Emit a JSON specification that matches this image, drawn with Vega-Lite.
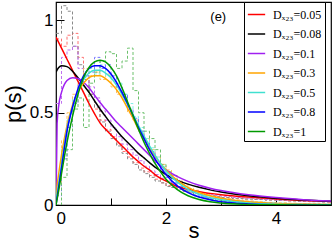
{
"$schema": "https://vega.github.io/schema/vega-lite/v6.json",
"width": 275, "height": 203,
"autosize": {"type": "none"},
"padding": {"left": 56, "top": 2, "right": 1, "bottom": 37},
"config": {"view": {"stroke": "black", "strokeWidth": 1.2}, "font": "Liberation Sans"},
"datasets": {
"c": [
{"k":"0.05","s":0,"p":0.91},{"k":"0.05","s":0.1,"p":0.85},{"k":"0.05","s":0.2,"p":0.79},{"k":"0.05","s":0.3,"p":0.73},{"k":"0.05","s":0.4,"p":0.67},{"k":"0.05","s":0.5,"p":0.61},{"k":"0.05","s":0.6,"p":0.55},{"k":"0.05","s":0.7,"p":0.495},{"k":"0.05","s":0.8,"p":0.445},{"k":"0.05","s":0.9,"p":0.41},{"k":"0.05","s":1.0,"p":0.38},{"k":"0.05","s":1.1,"p":0.35},{"k":"0.05","s":1.2,"p":0.32},{"k":"0.05","s":1.3,"p":0.29},{"k":"0.05","s":1.4,"p":0.26},{"k":"0.05","s":1.5,"p":0.235},{"k":"0.05","s":1.6,"p":0.21},{"k":"0.05","s":1.7,"p":0.19},{"k":"0.05","s":1.8,"p":0.165},{"k":"0.05","s":1.9,"p":0.145},{"k":"0.05","s":2.0,"p":0.13},{"k":"0.05","s":2.2,"p":0.10},{"k":"0.05","s":2.4,"p":0.085},{"k":"0.05","s":2.6,"p":0.072},{"k":"0.05","s":2.8,"p":0.063},{"k":"0.05","s":3.0,"p":0.056},{"k":"0.05","s":3.5,"p":0.043},{"k":"0.05","s":4,"p":0.033},{"k":"0.05","s":4.5,"p":0.025},{"k":"0.05","s":5,"p":0.019},
{"k":"0.08","s":0,"p":0.72},{"k":"0.08","s":0.05,"p":0.745},{"k":"0.08","s":0.1,"p":0.755},{"k":"0.08","s":0.2,"p":0.75},{"k":"0.08","s":0.3,"p":0.725},{"k":"0.08","s":0.4,"p":0.69},{"k":"0.08","s":0.5,"p":0.65},{"k":"0.08","s":0.6,"p":0.61},{"k":"0.08","s":0.7,"p":0.565},{"k":"0.08","s":0.8,"p":0.52},{"k":"0.08","s":0.9,"p":0.48},{"k":"0.08","s":1.0,"p":0.44},{"k":"0.08","s":1.1,"p":0.405},{"k":"0.08","s":1.2,"p":0.37},{"k":"0.08","s":1.3,"p":0.34},{"k":"0.08","s":1.4,"p":0.31},{"k":"0.08","s":1.5,"p":0.28},{"k":"0.08","s":1.6,"p":0.255},{"k":"0.08","s":1.7,"p":0.23},{"k":"0.08","s":1.8,"p":0.205},{"k":"0.08","s":1.9,"p":0.185},{"k":"0.08","s":2.0,"p":0.165},{"k":"0.08","s":2.2,"p":0.135},{"k":"0.08","s":2.4,"p":0.113},{"k":"0.08","s":2.6,"p":0.096},{"k":"0.08","s":2.8,"p":0.082},{"k":"0.08","s":3.0,"p":0.071},{"k":"0.08","s":3.5,"p":0.05},{"k":"0.08","s":4,"p":0.037},{"k":"0.08","s":4.5,"p":0.027},{"k":"0.08","s":5,"p":0.02},
{"k":"0.1","s":0,"p":0},{"k":"0.1","s":0.02,"p":0.44},{"k":"0.1","s":0.05,"p":0.54},{"k":"0.1","s":0.1,"p":0.61},{"k":"0.1","s":0.2,"p":0.675},{"k":"0.1","s":0.3,"p":0.69},{"k":"0.1","s":0.4,"p":0.685},{"k":"0.1","s":0.5,"p":0.665},{"k":"0.1","s":0.6,"p":0.635},{"k":"0.1","s":0.7,"p":0.595},{"k":"0.1","s":0.8,"p":0.555},{"k":"0.1","s":0.9,"p":0.52},{"k":"0.1","s":1.0,"p":0.485},{"k":"0.1","s":1.1,"p":0.45},{"k":"0.1","s":1.2,"p":0.42},{"k":"0.1","s":1.3,"p":0.39},{"k":"0.1","s":1.4,"p":0.36},{"k":"0.1","s":1.5,"p":0.33},{"k":"0.1","s":1.6,"p":0.30},{"k":"0.1","s":1.7,"p":0.27},{"k":"0.1","s":1.8,"p":0.24},{"k":"0.1","s":1.9,"p":0.215},{"k":"0.1","s":2.0,"p":0.19},{"k":"0.1","s":2.2,"p":0.155},{"k":"0.1","s":2.4,"p":0.128},{"k":"0.1","s":2.6,"p":0.107},{"k":"0.1","s":2.8,"p":0.091},{"k":"0.1","s":3.0,"p":0.078},{"k":"0.1","s":3.5,"p":0.055},{"k":"0.1","s":4,"p":0.04},{"k":"0.1","s":4.5,"p":0.029},{"k":"0.1","s":5,"p":0.021},
{"k":"0.3","s":0,"p":0},{"k":"0.3","s":0.02,"p":0.1},{"k":"0.3","s":0.05,"p":0.17},{"k":"0.3","s":0.1,"p":0.27},{"k":"0.3","s":0.2,"p":0.43},{"k":"0.3","s":0.3,"p":0.54},{"k":"0.3","s":0.4,"p":0.615},{"k":"0.3","s":0.5,"p":0.66},{"k":"0.3","s":0.6,"p":0.69},{"k":"0.3","s":0.7,"p":0.70},{"k":"0.3","s":0.8,"p":0.70},{"k":"0.3","s":0.9,"p":0.685},{"k":"0.3","s":1.0,"p":0.66},{"k":"0.3","s":1.1,"p":0.625},{"k":"0.3","s":1.2,"p":0.58},{"k":"0.3","s":1.3,"p":0.525},{"k":"0.3","s":1.4,"p":0.47},{"k":"0.3","s":1.5,"p":0.41},{"k":"0.3","s":1.6,"p":0.36},{"k":"0.3","s":1.7,"p":0.31},{"k":"0.3","s":1.8,"p":0.265},{"k":"0.3","s":1.9,"p":0.225},{"k":"0.3","s":2.0,"p":0.19},{"k":"0.3","s":2.2,"p":0.135},{"k":"0.3","s":2.4,"p":0.095},{"k":"0.3","s":2.6,"p":0.068},{"k":"0.3","s":2.8,"p":0.05},{"k":"0.3","s":3.0,"p":0.037},{"k":"0.3","s":3.5,"p":0.017},{"k":"0.3","s":4,"p":0.008},{"k":"0.3","s":4.5,"p":0.004},{"k":"0.3","s":5,"p":0.002},
{"k":"0.5","s":0,"p":0},{"k":"0.5","s":0.02,"p":0.06},{"k":"0.5","s":0.05,"p":0.12},{"k":"0.5","s":0.1,"p":0.22},{"k":"0.5","s":0.2,"p":0.41},{"k":"0.5","s":0.3,"p":0.53},{"k":"0.5","s":0.4,"p":0.62},{"k":"0.5","s":0.5,"p":0.68},{"k":"0.5","s":0.6,"p":0.715},{"k":"0.5","s":0.7,"p":0.73},{"k":"0.5","s":0.8,"p":0.73},{"k":"0.5","s":0.9,"p":0.715},{"k":"0.5","s":1.0,"p":0.69},{"k":"0.5","s":1.1,"p":0.65},{"k":"0.5","s":1.2,"p":0.60},{"k":"0.5","s":1.3,"p":0.545},{"k":"0.5","s":1.4,"p":0.49},{"k":"0.5","s":1.5,"p":0.43},{"k":"0.5","s":1.6,"p":0.375},{"k":"0.5","s":1.7,"p":0.32},{"k":"0.5","s":1.8,"p":0.27},{"k":"0.5","s":1.9,"p":0.225},{"k":"0.5","s":2.0,"p":0.185},{"k":"0.5","s":2.2,"p":0.125},{"k":"0.5","s":2.4,"p":0.085},{"k":"0.5","s":2.6,"p":0.058},{"k":"0.5","s":2.8,"p":0.04},{"k":"0.5","s":3.0,"p":0.028},{"k":"0.5","s":3.5,"p":0.011},{"k":"0.5","s":4,"p":0.004},{"k":"0.5","s":4.5,"p":0.002},{"k":"0.5","s":5,"p":0.001},
{"k":"0.8","s":0,"p":0},{"k":"0.8","s":0.05,"p":0.1},{"k":"0.8","s":0.1,"p":0.20},{"k":"0.8","s":0.2,"p":0.40},{"k":"0.8","s":0.3,"p":0.53},{"k":"0.8","s":0.4,"p":0.63},{"k":"0.8","s":0.5,"p":0.70},{"k":"0.8","s":0.6,"p":0.74},{"k":"0.8","s":0.7,"p":0.755},{"k":"0.8","s":0.8,"p":0.755},{"k":"0.8","s":0.9,"p":0.74},{"k":"0.8","s":1.0,"p":0.71},{"k":"0.8","s":1.1,"p":0.665},{"k":"0.8","s":1.2,"p":0.61},{"k":"0.8","s":1.3,"p":0.55},{"k":"0.8","s":1.4,"p":0.485},{"k":"0.8","s":1.5,"p":0.42},{"k":"0.8","s":1.6,"p":0.36},{"k":"0.8","s":1.7,"p":0.30},{"k":"0.8","s":1.8,"p":0.25},{"k":"0.8","s":1.9,"p":0.205},{"k":"0.8","s":2.0,"p":0.165},{"k":"0.8","s":2.2,"p":0.105},{"k":"0.8","s":2.4,"p":0.067},{"k":"0.8","s":2.6,"p":0.043},{"k":"0.8","s":2.8,"p":0.028},{"k":"0.8","s":3.0,"p":0.018},{"k":"0.8","s":3.5,"p":0.006},{"k":"0.8","s":4,"p":0.002},{"k":"0.8","s":4.5,"p":0.001},{"k":"0.8","s":5,"p":0},
{"k":"1","s":0,"p":0},{"k":"1","s":0.05,"p":0.08},{"k":"1","s":0.1,"p":0.17},{"k":"1","s":0.2,"p":0.34},{"k":"1","s":0.3,"p":0.48},{"k":"1","s":0.4,"p":0.60},{"k":"1","s":0.5,"p":0.69},{"k":"1","s":0.6,"p":0.745},{"k":"1","s":0.7,"p":0.775},{"k":"1","s":0.8,"p":0.785},{"k":"1","s":0.9,"p":0.775},{"k":"1","s":1.0,"p":0.745},{"k":"1","s":1.1,"p":0.70},{"k":"1","s":1.2,"p":0.635},{"k":"1","s":1.3,"p":0.56},{"k":"1","s":1.4,"p":0.485},{"k":"1","s":1.5,"p":0.41},{"k":"1","s":1.6,"p":0.34},{"k":"1","s":1.7,"p":0.28},{"k":"1","s":1.8,"p":0.225},{"k":"1","s":1.9,"p":0.18},{"k":"1","s":2.0,"p":0.14},{"k":"1","s":2.2,"p":0.085},{"k":"1","s":2.4,"p":0.05},{"k":"1","s":2.6,"p":0.03},{"k":"1","s":2.8,"p":0.018},{"k":"1","s":3.0,"p":0.011},{"k":"1","s":3.5,"p":0.003},{"k":"1","s":4,"p":0.001},{"k":"1","s":4.5,"p":0},{"k":"1","s":5,"p":0}
],
"h": [
{"k":"a","s":0,"p":0.90},{"k":"a","s":0.1,"p":0.86},{"k":"a","s":0.2,"p":0.92},{"k":"a","s":0.3,"p":0.93},{"k":"a","s":0.4,"p":0.80},{"k":"a","s":0.5,"p":0.70},{"k":"a","s":0.6,"p":0.60},{"k":"a","s":0.7,"p":0.52},{"k":"a","s":0.8,"p":0.46},{"k":"a","s":0.9,"p":0.41},{"k":"a","s":1.0,"p":0.37},{"k":"a","s":1.1,"p":0.33},{"k":"a","s":1.2,"p":0.29},{"k":"a","s":1.3,"p":0.26},{"k":"a","s":1.4,"p":0.23},{"k":"a","s":1.5,"p":0.20},{"k":"a","s":1.6,"p":0.18},{"k":"a","s":1.7,"p":0.16},{"k":"a","s":1.8,"p":0.14},{"k":"a","s":1.9,"p":0.12},{"k":"a","s":2.0,"p":0.105},{"k":"a","s":2.1,"p":0.095},{"k":"a","s":2.2,"p":0.085},{"k":"a","s":2.3,"p":0.075},{"k":"a","s":2.4,"p":0.068},{"k":"a","s":2.5,"p":0.062},{"k":"a","s":2.6,"p":0.057},{"k":"a","s":2.7,"p":0.052},{"k":"a","s":2.8,"p":0.048},{"k":"a","s":2.9,"p":0.044},{"k":"a","s":3.0,"p":0.04},{"k":"a","s":3.2,"p":0.036},{"k":"a","s":3.4,"p":0.033},{"k":"a","s":3.6,"p":0.03},{"k":"a","s":3.8,"p":0.027},{"k":"a","s":4.0,"p":0.025},{"k":"a","s":4.2,"p":0.023},{"k":"a","s":4.4,"p":0.021},{"k":"a","s":4.6,"p":0.019},{"k":"a","s":4.8,"p":0.018},{"k":"a","s":5,"p":0.018},
{"k":"b","s":0,"p":0.93},{"k":"b","s":0.1,"p":1.08},{"k":"b","s":0.2,"p":1.05},{"k":"b","s":0.3,"p":0.86},{"k":"b","s":0.4,"p":0.76},{"k":"b","s":0.5,"p":0.68},{"k":"b","s":0.6,"p":0.60},{"k":"b","s":0.7,"p":0.53},{"k":"b","s":0.8,"p":0.45},{"k":"b","s":0.9,"p":0.40},{"k":"b","s":1.0,"p":0.36},{"k":"b","s":1.1,"p":0.32},{"k":"b","s":1.2,"p":0.28},{"k":"b","s":1.3,"p":0.25},{"k":"b","s":1.4,"p":0.22},{"k":"b","s":1.5,"p":0.19},{"k":"b","s":1.6,"p":0.17},{"k":"b","s":1.7,"p":0.15},{"k":"b","s":1.8,"p":0.13},{"k":"b","s":1.9,"p":0.12},{"k":"b","s":2.0,"p":0.10},{"k":"b","s":2.1,"p":0.095},{"k":"b","s":2.2,"p":0.085},{"k":"b","s":2.3,"p":0.075},{"k":"b","s":2.4,"p":0.07},{"k":"b","s":2.5,"p":0.065},{"k":"b","s":2.6,"p":0.06},{"k":"b","s":2.7,"p":0.055},{"k":"b","s":2.8,"p":0.05},{"k":"b","s":2.9,"p":0.045},{"k":"b","s":3.0,"p":0.04},{"k":"b","s":3.2,"p":0.036},{"k":"b","s":3.4,"p":0.032},{"k":"b","s":3.6,"p":0.03},{"k":"b","s":3.8,"p":0.027},{"k":"b","s":4.0,"p":0.025},{"k":"b","s":4.2,"p":0.022},{"k":"b","s":4.4,"p":0.02},{"k":"b","s":4.6,"p":0.018},{"k":"b","s":4.8,"p":0.016},{"k":"b","s":5,"p":0.016},
{"k":"c","s":0,"p":0.55},{"k":"c","s":0.1,"p":0.80},{"k":"c","s":0.2,"p":0.84},{"k":"c","s":0.3,"p":0.86},{"k":"c","s":0.4,"p":0.74},{"k":"c","s":0.5,"p":0.70},{"k":"c","s":0.6,"p":0.64},{"k":"c","s":0.7,"p":0.58},{"k":"c","s":0.8,"p":0.51},{"k":"c","s":0.9,"p":0.46},{"k":"c","s":1.0,"p":0.42},{"k":"c","s":1.1,"p":0.37},{"k":"c","s":1.2,"p":0.33},{"k":"c","s":1.3,"p":0.30},{"k":"c","s":1.4,"p":0.27},{"k":"c","s":1.5,"p":0.24},{"k":"c","s":1.6,"p":0.21},{"k":"c","s":1.7,"p":0.185},{"k":"c","s":1.8,"p":0.165},{"k":"c","s":1.9,"p":0.145},{"k":"c","s":2.0,"p":0.13},{"k":"c","s":2.1,"p":0.115},{"k":"c","s":2.2,"p":0.10},{"k":"c","s":2.3,"p":0.09},{"k":"c","s":2.4,"p":0.082},{"k":"c","s":2.5,"p":0.074},{"k":"c","s":2.6,"p":0.067},{"k":"c","s":2.7,"p":0.061},{"k":"c","s":2.8,"p":0.056},{"k":"c","s":2.9,"p":0.051},{"k":"c","s":3.0,"p":0.047},{"k":"c","s":3.2,"p":0.041},{"k":"c","s":3.4,"p":0.037},{"k":"c","s":3.6,"p":0.033},{"k":"c","s":3.8,"p":0.03},{"k":"c","s":4.0,"p":0.027},{"k":"c","s":4.2,"p":0.025},{"k":"c","s":4.4,"p":0.022},{"k":"c","s":4.6,"p":0.02},{"k":"c","s":4.8,"p":0.019},{"k":"c","s":5,"p":0.019},
{"k":"d","s":0,"p":0.12},{"k":"d","s":0.1,"p":0.35},{"k":"d","s":0.2,"p":0.50},{"k":"d","s":0.3,"p":0.60},{"k":"d","s":0.4,"p":0.66},{"k":"d","s":0.5,"p":0.74},{"k":"d","s":0.6,"p":0.70},{"k":"d","s":0.7,"p":0.72},{"k":"d","s":0.8,"p":0.68},{"k":"d","s":0.9,"p":0.71},{"k":"d","s":1.0,"p":0.64},{"k":"d","s":1.1,"p":0.60},{"k":"d","s":1.2,"p":0.57},{"k":"d","s":1.3,"p":0.50},{"k":"d","s":1.4,"p":0.46},{"k":"d","s":1.5,"p":0.40},{"k":"d","s":1.6,"p":0.36},{"k":"d","s":1.7,"p":0.30},{"k":"d","s":1.8,"p":0.26},{"k":"d","s":1.9,"p":0.22},{"k":"d","s":2.0,"p":0.19},{"k":"d","s":2.1,"p":0.16},{"k":"d","s":2.2,"p":0.13},{"k":"d","s":2.3,"p":0.11},{"k":"d","s":2.4,"p":0.09},{"k":"d","s":2.5,"p":0.08},{"k":"d","s":2.6,"p":0.065},{"k":"d","s":2.7,"p":0.055},{"k":"d","s":2.8,"p":0.045},{"k":"d","s":2.9,"p":0.04},{"k":"d","s":3.0,"p":0.035},{"k":"d","s":3.2,"p":0.028},{"k":"d","s":3.4,"p":0.022},{"k":"d","s":3.6,"p":0.018},{"k":"d","s":3.8,"p":0.014},{"k":"d","s":4.0,"p":0.012},{"k":"d","s":4.2,"p":0.01},{"k":"d","s":4.4,"p":0.008},{"k":"d","s":4.6,"p":0.007},{"k":"d","s":4.8,"p":0.006},{"k":"d","s":5,"p":0.006},
{"k":"e","s":0,"p":0.08},{"k":"e","s":0.1,"p":0.30},{"k":"e","s":0.2,"p":0.46},{"k":"e","s":0.3,"p":0.58},{"k":"e","s":0.4,"p":0.64},{"k":"e","s":0.5,"p":0.69},{"k":"e","s":0.6,"p":0.74},{"k":"e","s":0.7,"p":0.71},{"k":"e","s":0.8,"p":0.76},{"k":"e","s":0.9,"p":0.70},{"k":"e","s":1.0,"p":0.68},{"k":"e","s":1.1,"p":0.66},{"k":"e","s":1.2,"p":0.60},{"k":"e","s":1.3,"p":0.55},{"k":"e","s":1.4,"p":0.48},{"k":"e","s":1.5,"p":0.42},{"k":"e","s":1.6,"p":0.36},{"k":"e","s":1.7,"p":0.31},{"k":"e","s":1.8,"p":0.26},{"k":"e","s":1.9,"p":0.21},{"k":"e","s":2.0,"p":0.17},{"k":"e","s":2.1,"p":0.14},{"k":"e","s":2.2,"p":0.12},{"k":"e","s":2.3,"p":0.10},{"k":"e","s":2.4,"p":0.08},{"k":"e","s":2.5,"p":0.07},{"k":"e","s":2.6,"p":0.06},{"k":"e","s":2.7,"p":0.05},{"k":"e","s":2.8,"p":0.04},{"k":"e","s":2.9,"p":0.035},{"k":"e","s":3.0,"p":0.03},{"k":"e","s":3.2,"p":0.025},{"k":"e","s":3.4,"p":0.02},{"k":"e","s":3.6,"p":0.016},{"k":"e","s":3.8,"p":0.013},{"k":"e","s":4.0,"p":0.01},{"k":"e","s":4.2,"p":0.008},{"k":"e","s":4.4,"p":0.007},{"k":"e","s":4.6,"p":0.006},{"k":"e","s":4.8,"p":0.005},{"k":"e","s":5,"p":0.005},
{"k":"f","s":0,"p":0.05},{"k":"f","s":0.1,"p":0.25},{"k":"f","s":0.2,"p":0.42},{"k":"f","s":0.3,"p":0.55},{"k":"f","s":0.4,"p":0.66},{"k":"f","s":0.5,"p":0.70},{"k":"f","s":0.6,"p":0.72},{"k":"f","s":0.7,"p":0.80},{"k":"f","s":0.8,"p":0.74},{"k":"f","s":0.9,"p":0.76},{"k":"f","s":1.0,"p":0.70},{"k":"f","s":1.1,"p":0.64},{"k":"f","s":1.2,"p":0.60},{"k":"f","s":1.3,"p":0.52},{"k":"f","s":1.4,"p":0.47},{"k":"f","s":1.5,"p":0.40},{"k":"f","s":1.6,"p":0.34},{"k":"f","s":1.7,"p":0.29},{"k":"f","s":1.8,"p":0.23},{"k":"f","s":1.9,"p":0.19},{"k":"f","s":2.0,"p":0.15},{"k":"f","s":2.1,"p":0.12},{"k":"f","s":2.2,"p":0.10},{"k":"f","s":2.3,"p":0.08},{"k":"f","s":2.4,"p":0.065},{"k":"f","s":2.5,"p":0.055},{"k":"f","s":2.6,"p":0.045},{"k":"f","s":2.7,"p":0.04},{"k":"f","s":2.8,"p":0.035},{"k":"f","s":2.9,"p":0.03},{"k":"f","s":3.0,"p":0.025},{"k":"f","s":3.2,"p":0.02},{"k":"f","s":3.4,"p":0.016},{"k":"f","s":3.6,"p":0.012},{"k":"f","s":3.8,"p":0.01},{"k":"f","s":4.0,"p":0.008},{"k":"f","s":4.2,"p":0.006},{"k":"f","s":4.4,"p":0.005},{"k":"f","s":4.6,"p":0.004},{"k":"f","s":4.8,"p":0.003},{"k":"f","s":5,"p":0.003},
{"k":"g","s":0,"p":0},{"k":"g","s":0.1,"p":0.15},{"k":"g","s":0.2,"p":0.30},{"k":"g","s":0.3,"p":0.52},{"k":"g","s":0.4,"p":0.58},{"k":"g","s":0.5,"p":0.42},{"k":"g","s":0.6,"p":0.66},{"k":"g","s":0.7,"p":0.72},{"k":"g","s":0.8,"p":0.78},{"k":"g","s":0.9,"p":0.83},{"k":"g","s":1.0,"p":0.82},{"k":"g","s":1.1,"p":0.74},{"k":"g","s":1.2,"p":0.78},{"k":"g","s":1.3,"p":0.85},{"k":"g","s":1.4,"p":0.62},{"k":"g","s":1.5,"p":0.50},{"k":"g","s":1.6,"p":0.40},{"k":"g","s":1.7,"p":0.36},{"k":"g","s":1.8,"p":0.30},{"k":"g","s":1.9,"p":0.22},{"k":"g","s":2.0,"p":0.18},{"k":"g","s":2.1,"p":0.16},{"k":"g","s":2.2,"p":0.12},{"k":"g","s":2.3,"p":0.08},{"k":"g","s":2.4,"p":0.07},{"k":"g","s":2.5,"p":0.05},{"k":"g","s":2.6,"p":0.04},{"k":"g","s":2.7,"p":0.035},{"k":"g","s":2.8,"p":0.03},{"k":"g","s":2.9,"p":0.025},{"k":"g","s":3.0,"p":0.02},{"k":"g","s":3.2,"p":0.016},{"k":"g","s":3.4,"p":0.012},{"k":"g","s":3.6,"p":0.01},{"k":"g","s":3.8,"p":0.008},{"k":"g","s":4.0,"p":0.006},{"k":"g","s":4.2,"p":0.005},{"k":"g","s":4.4,"p":0.004},{"k":"g","s":4.6,"p":0.003},{"k":"g","s":4.8,"p":0.003},{"k":"g","s":5,"p":0.003}
]
},
"layer": [
{"data": {"name": "h"},
 "mark": {"type": "line", "interpolate": "step-after", "strokeDash": [3, 2], "strokeWidth": 1, "clip": true},
 "encoding": {
  "x": {"field": "s", "type": "quantitative", "scale": {"domain": [0, 5], "nice": false},
        "axis": {"values": [0, 1, 2, 3, 4], "labelExpr": "datum.value % 2 == 0 ? datum.label : ''", "grid": false, "domain": false, "tickColor": "black", "tickSize": -7, "labelPadding": 12, "labelFontSize": 17, "labelColor": "black", "title": "s", "titleFontSize": 22, "titleFontWeight": "normal", "titlePadding": -6, "titleColor": "black"}},
  "y": {"field": "p", "type": "quantitative", "scale": {"domain": [0, 1.1], "nice": false},
        "axis": {"values": [0, 0.5, 1], "labelExpr": "datum.value == 0.5 ? '0.5' : (datum.value == 1 ? '1' : '0')", "grid": false, "domain": false, "tickColor": "black", "tickSize": -8, "labelPadding": 11, "labelFontSize": 17, "labelColor": "black", "title": "p(s)", "titleFontSize": 22, "titleFontWeight": "normal", "titlePadding": 4, "titleColor": "black"}},
  "color": {"field": "k", "type": "nominal", "legend": null,
            "scale": {"domain": ["a", "b", "c", "d", "e", "f", "g"], "range": ["#ff7070", "#8a8a8a", "#c070f0", "#ffc060", "#80f0e8", "#7878ff", "#6cc06c"]}}
 }},
{"data": {"name": "c"},
 "mark": {"type": "line", "interpolate": "monotone", "strokeWidth": 1.5, "clip": true},
 "encoding": {
  "x": {"field": "s", "type": "quantitative"},
  "y": {"field": "p", "type": "quantitative"},
  "color": {"field": "k", "type": "nominal",
            "scale": {"domain": ["0.05", "0.08", "0.1", "0.3", "0.5", "0.8", "1"], "range": ["#ff0000", "#000000", "#a020f0", "#ffa500", "#40e0d0", "#0000ff", "#009900"]},
            "legend": {"title": null, "orient": "none", "legendX": 188, "legendY": 0, "padding": 3, "strokeColor": "black", "fillColor": "white", "symbolType": "stroke", "symbolSize": 300, "symbolStrokeWidth": 1.5, "labelFont": "Liberation Serif", "labelFontSize": 12, "labelColor": "black", "rowPadding": 3.5, "labelOffset": 7, "labelExpr": "'Dₓ₂₃=' + datum.label"}}
 }},
{"data": {"values": [{}]},
 "mark": {"type": "text", "fontSize": 13, "color": "black", "font": "Liberation Sans"},
 "encoding": {"x": {"datum": 2.95}, "y": {"datum": 1.02}, "text": {"value": "(e)"}}}
],
"resolve": {"scale": {"color": "independent"}}
}
